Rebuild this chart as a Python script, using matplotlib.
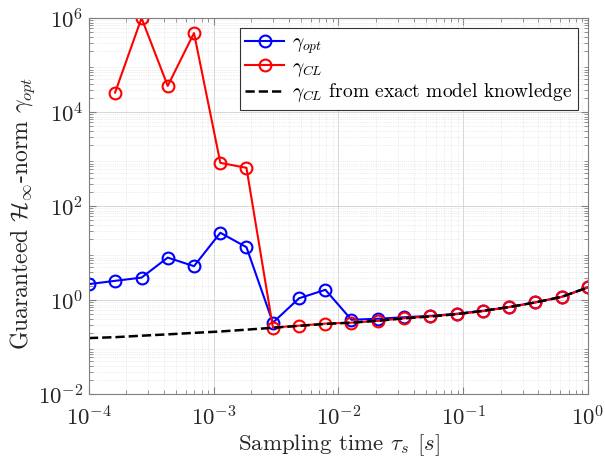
import numpy as np
import matplotlib
matplotlib.use("Agg")
import matplotlib.pyplot as plt

plt.rcParams["font.family"] = "serif"
plt.rcParams["font.serif"] = ["cmr10"]
plt.rcParams["mathtext.fontset"] = "cm"
plt.rcParams["axes.formatter.use_mathtext"] = True

# sampling times (20 log-spaced points from 1e-4 to 1)
tau = [1.0e-4, 1.62e-4, 2.64e-4, 4.28e-4, 6.95e-4, 1.13e-3, 1.83e-3, 2.98e-3,
       4.83e-3, 7.85e-3, 1.27e-2, 2.07e-2, 3.36e-2, 5.46e-2, 8.86e-2, 0.144,
       0.234, 0.379, 0.616, 1.0]

gamma_opt = [2.18, 2.56, 3.0, 8.0, 5.25, 27.0, 13.3, 0.33, 1.09, 1.65, 0.38,
             0.40, 0.43, 0.46, 0.51, 0.59, 0.71, 0.89, 1.17, 1.86]

gamma_cl = [np.nan, 2.6e4, 1.0e6, 3.6e4, 4.8e5, 830.0, 650.0, 0.26, 0.285,
            0.315, 0.33, 0.36, 0.41, 0.45, 0.50, 0.58, 0.71, 0.89, 1.17, 1.86]

gamma_cl_exact = [0.155, 0.162, 0.174, 0.186, 0.20, 0.214, 0.234, 0.257,
                  0.282, 0.31, 0.33, 0.363, 0.407, 0.447, 0.50, 0.59, 0.71,
                  0.89, 1.17, 1.86]

fig = plt.figure(figsize=(6.05, 4.63), dpi=100)
ax = fig.add_axes([0.147, 0.149, 0.825, 0.812])

ax.plot(tau, gamma_opt, "-o", color="#0000ff", lw=1.5, ms=8.5,
        mfc="none", mew=1.5, label=r"$\gamma_{opt}$")
ax.plot(tau, gamma_cl, "-o", color="#ff0000", lw=1.5, ms=8.5,
        mfc="none", mew=1.5, label=r"$\gamma_{CL}$")
ax.plot(tau, gamma_cl_exact, "--", color="black", lw=1.8,
        label=r"$\gamma_{CL}$ from exact model knowledge")

ax.set_xscale("log")
ax.set_yscale("log")
ax.set_xlim(1e-4, 1)
ax.set_ylim(1e-2, 1e6)
ax.set_yticks([1e-2, 1e0, 1e2, 1e4, 1e6])
ax.set_xticks([1e-4, 1e-3, 1e-2, 1e-1, 1e0])

ax.grid(True, which="major", color="#d0d0d0", lw=0.6, ls="-")
ax.grid(True, which="minor", color="#dcdcdc", lw=0.5, ls=":")
ax.set_axisbelow(True)

for s in ax.spines.values():
    s.set_color("#7f7f7f")
ax.tick_params(which="both", direction="in", top=True, right=True,
               colors="#7f7f7f", labelcolor="#262626", labelsize=16.5)
ax.tick_params(which="major", length=5)
ax.tick_params(which="minor", length=3)
ax.tick_params(axis="x", pad=8)
ax.tick_params(axis="y", pad=4)

ax.set_xlabel(r"Sampling time $\tau_s$ $[s]$", fontsize=16.5,
              color="#262626", labelpad=2)
ax.set_ylabel(r"Guaranteed $\mathcal{H}_\infty$-norm $\gamma_{opt}$",
              fontsize=17, color="#262626")
ax.yaxis.set_label_coords(-0.105, 0.48)

leg = ax.legend(loc="upper right", fontsize=14, fancybox=False,
                framealpha=1, edgecolor="#333333", borderaxespad=0.5,
                handlelength=2.0, handletextpad=0.4, labelspacing=0.12,
                borderpad=0.3)
leg.get_frame().set_linewidth(0.8)

fig.savefig("out.png", dpi=100)
